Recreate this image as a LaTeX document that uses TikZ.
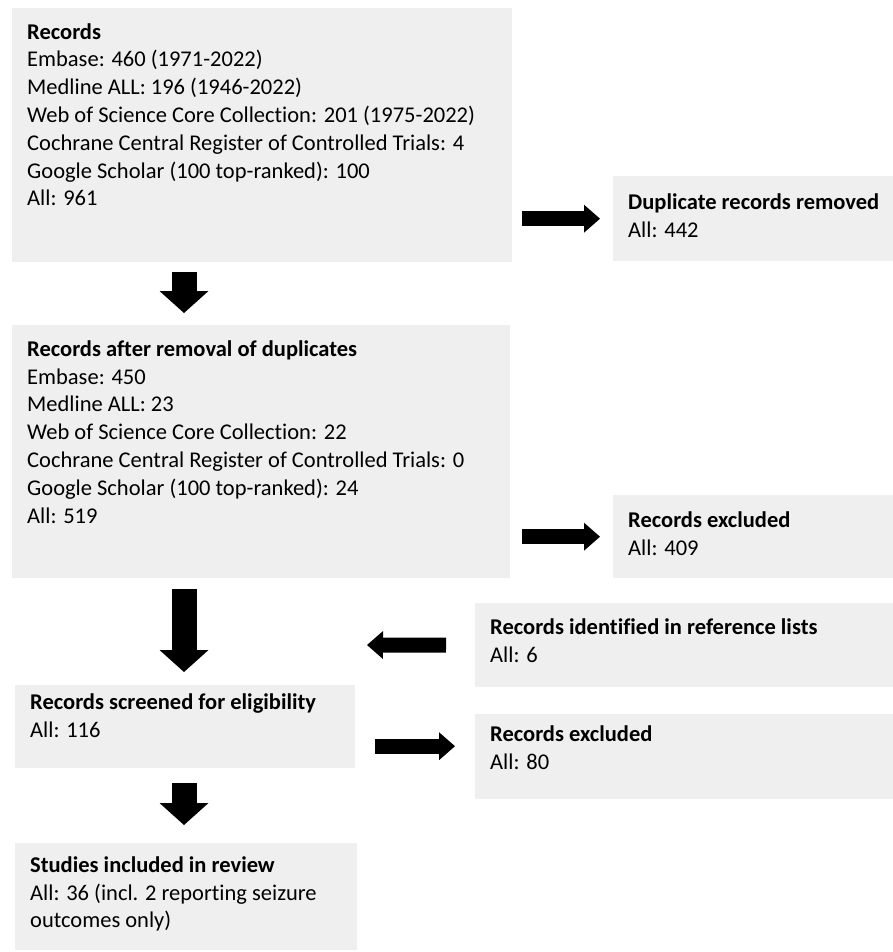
\documentclass[tikz,border=0pt]{standalone}
\usepackage{fontspec}
\setmainfont{Carlito}[Ligatures=CommonOff]
\usetikzlibrary{arrows.meta}

\definecolor{boxgray}{RGB}{239,239,239}
% top aligned box text: width, height, first baseline, text
\newcommand{\boxtext}[4]{\parbox[t][#2][t]{#1}{\raggedright\rule{0pt}{#3}#4}}

\begin{document}
\begin{tikzpicture}[
        x=1pt, y=-1pt,
        flowbox/.style={
            rectangle,
            fill=boxgray,
            anchor=north west,
            inner xsep=15pt,
            inner ysep=0pt,
            font=\fontsize{22.5pt}{27.8pt}\selectfont
        },
        downarrow/.style={line width=25pt, -{Triangle[length=22pt, width=49pt, line width=0pt]}},
        sidearrow/.style={line width=15pt, -{Triangle[length=16pt, width=28pt, line width=0pt]}}
    ]
    \useasboundingbox (0,0) rectangle (892,952);

    \node[flowbox] (records) at (12,8) {\boxtext{470pt}{254pt}{31pt}{%
        \textbf{Records}\\
        Embase: 460 (1971-2022)\\
        Medline ALL: 196 (1946-2022)\\
        Web of Science Core Collection: 201 (1975-2022)\\
        Cochrane Central Register of Controlled Trials: 4\\
        Google Scholar (100 top-ranked): 100\\
        All: 961}};
    \node[flowbox] (dup) at (613,176) {\boxtext{264pt}{85pt}{33pt}{%
        \textbf{Duplicate records removed}\\
        All: 442}};

    \node[flowbox] (nodup) at (12,325) {\boxtext{468pt}{253pt}{31pt}{%
        \textbf{Records after removal of duplicates}\\
        Embase: 450\\
        Medline ALL: 23\\
        Web of Science Core Collection: 22\\
        Cochrane Central Register of Controlled Trials: 0\\
        Google Scholar (100 top-ranked): 24\\
        All: 519}};
    \node[flowbox] (excl1) at (613,495) {\boxtext{264pt}{83pt}{32pt}{%
        \textbf{Records excluded}\\
        All: 409}};

    \node[flowbox] (ref) at (475,603) {\boxtext{402pt}{84pt}{31pt}{%
        \textbf{Records identified in reference lists}\\
        All: 6}};
    \node[flowbox] (screened) at (15,685) {\boxtext{310pt}{83pt}{24pt}{%
        \textbf{Records screened for eligibility}\\
        All: 116}};
    \node[flowbox] (excl2) at (475,714) {\boxtext{402pt}{85pt}{27pt}{%
        \textbf{Records excluded}\\
        All: 80}};

    \node[flowbox] (studies) at (15,843) {\boxtext{312pt}{107pt}{29pt}{%
        \textbf{Studies included in review}\\
        All: 36 (incl. 2 reporting seizure\\
        outcomes only)}};

    % arrows
    \coordinate (axis) at (184,0);
    \coordinate (merge) at (367,645);
    \coordinate (toexcl) at ([yshift=10.5pt]excl2.west);

    \draw[downarrow, shorten <=10pt, shorten >=12pt] (records.south -| axis) -- (nodup.north -| axis);
    \draw[downarrow, shorten <=11pt, shorten >=13pt] (nodup.south -| axis) -- (screened.north -| axis);
    \draw[downarrow, shorten <=15pt, shorten >=18pt] (screened.south -| axis) -- (studies.north -| axis);

    \draw[sidearrow, shorten <=10pt, shorten >=13pt] (records.east |- dup.west) -- (dup.west);
    \draw[sidearrow, shorten <=12pt, shorten >=13pt] (nodup.east |- excl1.west) -- (excl1.west);
    \draw[sidearrow, shorten <=29pt] (ref.west) -- (merge);
    \draw[sidearrow, shorten <=20pt, shorten >=20pt] (screened.east |- toexcl) -- (toexcl);
\end{tikzpicture}
\end{document}
